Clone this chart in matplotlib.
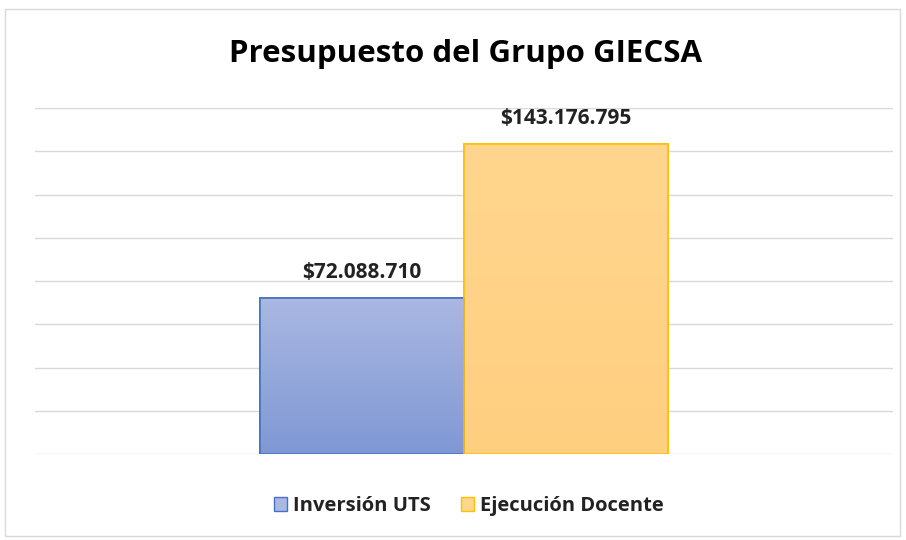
import matplotlib
matplotlib.use("Agg")
import matplotlib.pyplot as plt
import numpy as np
from matplotlib.patches import Rectangle
from matplotlib.colors import LinearSegmentedColormap

title = "Presupuesto del Grupo GIECSA"
series = ["Inversión UTS", "Ejecución Docente"]
values = [72088710, 143176795]
labels = ["$72.088.710", "$143.176.795"]

fig = plt.figure(figsize=(9.06, 5.40), dpi=100)
fig.patches.append(Rectangle((5/906, 1-536/540), 895/906, 527/540, transform=fig.transFigure,
                             facecolor="white", edgecolor="#d9d9d9", lw=1.0, zorder=-5))
ax = fig.add_axes([35/906, 1-454/540, 858/906, 346/540])
ax.set_zorder(2)
ax.set_xlim(-2.103, 2.103)
ax.set_ylim(0, 160e6)
ax.set_yticks(np.arange(0, 160e6 + 1, 20e6))
ax.yaxis.grid(True, color="#d9d9d9", lw=1.0)
ax.set_axisbelow(True)
ax.tick_params(left=False, bottom=False, labelleft=False, labelbottom=False)
for s in ax.spines.values():
    s.set_visible(False)
ax.patch.set_alpha(0)

fills = [("#7f98d4", "#aab8e2", "#4472c4"), ("#ffcf80", "#ffd68e", "#ffc000")]
xs = [-0.5, 0.5]
for x, v, lab, (c0, c1, ec), name in zip(xs, values, labels, fills, series):
    bar = ax.bar(x, v, width=1.0, color=c1, edgecolor=ec, linewidth=1.2, label=name, zorder=2)[0]
    cmap = LinearSegmentedColormap.from_list("g", [c0, c1])
    grad = np.linspace(0, 1, 256).reshape(-1, 1)
    im = ax.imshow(grad, cmap=cmap, extent=[x - 0.5, x + 0.5, 0, v], origin="lower",
                   aspect="auto", zorder=2.5)
    im.set_clip_path(bar)
    ax.add_patch(Rectangle((x - 0.5, 0), 1.0, v, facecolor="none", edgecolor=ec, lw=1.2, zorder=3))
    ax.annotate(lab, (x, v), xytext=(0, 11), textcoords="offset points", ha="center", va="bottom",
                fontsize=15, fontweight="bold", family="Open Sans", color="#222222")
ax.set_xlim(-2.103, 2.103)
ax.set_ylim(0, 160e6)

fig.text(465.5/906, 1-54/540, title, ha="center", va="center", fontsize=22.5, fontweight="bold",
         family="Open Sans", color="#000000")

handles = [Rectangle((0, 0), 1, 1, facecolor=f[1], edgecolor=f[2], lw=1.0) for f in fills]
leg = fig.legend(handles, series, loc="center", bbox_to_anchor=(469/906, 1-506/540), ncol=2,
                 frameon=False, handlelength=0.65, handleheight=0.65, handletextpad=0.3,
                 columnspacing=1.5, prop={"family": "Open Sans", "weight": "bold", "size": 14.5})
for t in leg.get_texts():
    t.set_color("#222222")

fig.savefig("out.png", dpi=100)
